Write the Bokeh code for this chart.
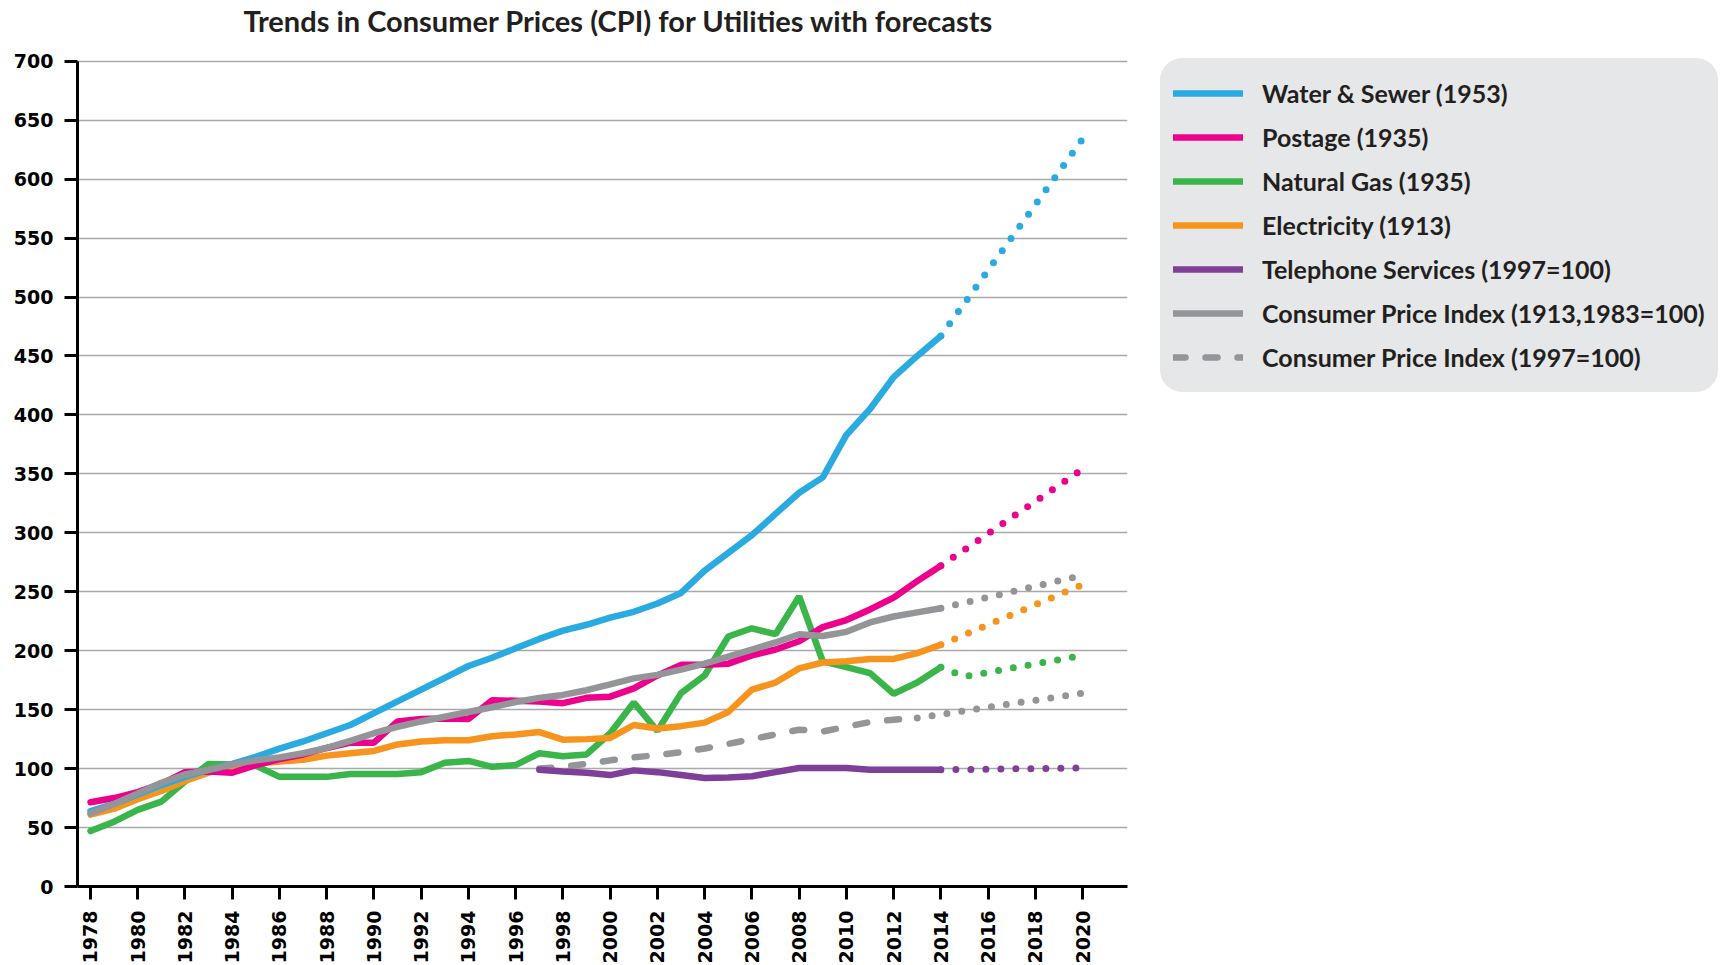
import math

from bokeh.plotting import figure
from bokeh.models import Range1d, FixedTicker, Legend, LegendItem, Label
from bokeh.embed import file_html
from bokeh.resources import INLINE

# ---- data -------------------------------------------------------------
years = list(range(1978, 2015))

water_sewer = [64, 70, 78, 86, 93, 99, 104, 110, 117, 123, 130, 137,
               147, 157, 167, 177, 187, 194, 202, 210, 217, 222, 228, 233,
               240, 249, 268, 283, 298, 316, 334, 347, 383, 405, 432, 450, 467]
postage = [71.5, 75, 80, 87, 97, 97.5, 96.5, 103, 108, 112, 117.5, 122,
           122, 140, 142, 142.5, 142, 158, 157.5, 157, 155.5, 160, 161, 168,
           179, 188, 188, 189, 196, 201, 208, 220, 226, 235, 245, 259, 272]
natural_gas = [47, 55, 65, 72, 89, 104, 103.5, 102.5, 93, 93, 93, 95.5,
               95.5, 95.5, 97, 105, 106.5, 101.5, 103, 113, 110.5, 112, 130, 156,
               132, 164, 179, 212, 219, 214, 246, 191, 186, 181, 163.5, 173, 186]
electricity = [61, 66, 74, 81, 89.5, 96.5, 102, 104, 106, 107.5, 111, 113,
               115, 120.5, 123, 124, 124, 127.5, 129, 131, 124.5, 125, 126, 137,
               134, 136, 139, 148, 167, 173, 185, 190, 191, 193, 193, 198, 205]
cpi_1983 = [62, 70, 79, 88, 95, 99, 103.5, 107, 109.5, 113, 117.5, 123.5,
            130, 135.5, 140, 144, 148, 152, 156.5, 160, 162.5, 166.5, 171.5, 176.5,
            179.5, 184, 189, 195, 201, 207, 214, 212.5, 216, 224, 229, 232.5, 236]

telephone_years = list(range(1997, 2015))
telephone = [99, 97.5, 96.5, 94.5, 98.5, 97, 94.5, 92, 92.5, 93.5, 97, 100.5,
             100.5, 100.5, 99, 99, 99, 99]

cpi97_years = list(range(1997, 2014))
cpi_1997 = [100, 101.5, 104, 107, 109.5, 111.5, 114, 117, 121, 125, 129, 133,
            131.5, 135.5, 139.5, 141.5, 143]

# forecasts
forecast_years = [2014, 2020]
water_sewer_fc = [467, 634]
postage_fc = [272, 354]
electricity_fc = [205, 256]
cpi_1983_fc = [236, 264]
telephone_fc = [99, 100.5]
gas_fc_years = [2014, 2015, 2020]
natural_gas_fc = [186, 178, 196]
cpi97_fc_years = [2013, 2020]
cpi_1997_fc = [143, 164]

x_ticks = list(range(1978, 2021, 2))
y_ticks = list(range(0, 701, 50))

title_text = "Trends in Consumer Prices (CPI) for Utilities with forecasts"
labels = ["Water & Sewer (1953)", "Postage (1935)", "Natural Gas (1935)",
          "Electricity (1913)", "Telephone Services (1997=100)",
          "Consumer Price Index (1913,1983=100)", "Consumer Price Index (1997=100)"]

BLUE = "#29abe2"
PINK = "#ec008c"
GREEN = "#39b54a"
ORANGE = "#f7941d"
PURPLE = "#7f3f98"
GRAY = "#939598"
INK = "#231f20"
PANEL = "#e6e7e8"

# ---- figure -------------------------------------------------------------
# The frame reaches the top of the canvas; the value axis stops at 700 and
# the space above it holds the heading.
FRAME_H = 886
Y_TOP = 700 * FRAME_H / 825.3

p = figure(frame_width=1050, frame_height=FRAME_H,
           x_range=Range1d(1977.45, 2021.9), y_range=Range1d(0, Y_TOP),
           output_backend="svg", toolbar_location=None,
           min_border_left=77, min_border_right=594,
           min_border_top=0, min_border_bottom=79)
p.outline_line_color = None
p.background_fill_color = "white"
p.border_fill_color = "white"
p.title.visible = False

p.add_layout(Label(x=166, y=FRAME_H - 20, x_units="screen", y_units="screen",
                   text=title_text, text_font="Lato", text_font_style="bold",
                   text_font_size="29px", text_color=INK,
                   text_align="left", text_baseline="middle"))

LW = 6.5
DOTS = "0 15"

def solid(xs, ys, color):
    return p.line(xs, ys, line_color=color, line_width=LW, line_cap="round")

def dotted(xs, ys, color):
    return p.line(xs, ys, line_color=color, line_width=7, line_cap="round",
                  line_dash=DOTS)

# forecasts first so the solid history sits on top
dotted(forecast_years, cpi_1983_fc, GRAY)
dotted(cpi97_fc_years, cpi_1997_fc, GRAY)
dotted(forecast_years, telephone_fc, PURPLE)
dotted(forecast_years, electricity_fc, ORANGE)
dotted(gas_fc_years, natural_gas_fc, GREEN)
dotted(forecast_years, postage_fc, PINK)
dotted(forecast_years, water_sewer_fc, BLUE)

r_cpi97 = p.line(cpi97_years, cpi_1997, line_color=GRAY, line_width=LW,
                 line_cap="round", line_dash="12 20")
r_tel = solid(telephone_years, telephone, PURPLE)
r_gas = solid(years, natural_gas, GREEN)
r_ele = solid(years, electricity, ORANGE)
r_post = solid(years, postage, PINK)
r_water = solid(years, water_sewer, BLUE)
r_cpi = solid(years, cpi_1983, GRAY)

# ---- axes & grid ---------------------------------------------------------
for ax in (p.xaxis[0], p.yaxis[0]):
    ax.axis_line_width = 3
    ax.axis_line_color = "black"
    ax.major_tick_line_width = 3
    ax.major_tick_line_color = "black"
    ax.major_tick_in = 0
    ax.major_tick_out = 13
    ax.minor_tick_line_color = None
    ax.major_label_text_font = "DejaVu Sans"
    ax.major_label_text_font_style = "bold"
    ax.major_label_text_font_size = "19px"
    ax.major_label_text_color = "black"
    ax.major_label_standoff = 11

p.xaxis.ticker = FixedTicker(ticks=x_ticks)
p.yaxis.ticker = FixedTicker(ticks=y_ticks)
p.yaxis.bounds = (0, 700)
p.xaxis.major_label_orientation = math.pi / 2

p.xgrid.visible = False
p.ygrid.ticker = FixedTicker(ticks=y_ticks[1:])
p.ygrid.grid_line_color = "#a7a9ac"
p.ygrid.grid_line_width = 1.5

# ---- legend --------------------------------------------------------------
items = [LegendItem(label=lab, renderers=[r]) for lab, r in zip(
    labels, [r_water, r_post, r_gas, r_ele, r_tel, r_cpi, r_cpi97])]
legend = Legend(items=items, location=(33, 494), margin=0, padding=12,
                spacing=0, glyph_width=70, glyph_height=44, label_height=44,
                label_standoff=19,
                label_text_font="Lato", label_text_font_style="bold",
                label_text_font_size="25px", label_text_color=INK,
                background_fill_color=PANEL, background_fill_alpha=1,
                border_line_color=PANEL, border_line_width=1)
if "border_radius" in Legend.properties():
    legend.border_radius = 22
p.add_layout(legend, "right")

open("out.html", "w").write(file_html(p, INLINE))
